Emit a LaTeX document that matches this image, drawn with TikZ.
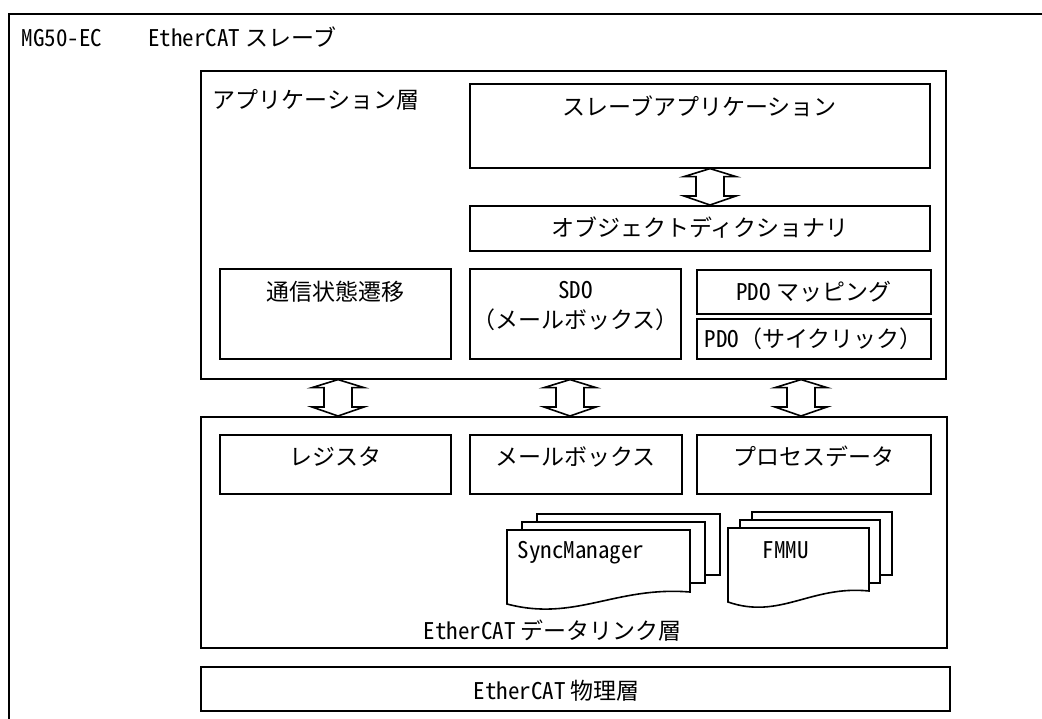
\documentclass[tikz,border=0pt]{standalone}
\usepackage{fontspec}
\setmainfont{Noto Sans CJK JP}
\newfontfamily\hw{Noto Sans CJK JP}[RawFeature=+hwid]
\usetikzlibrary{positioning,calc}

% hollow two-way arrow at x=#1 between #2 (above) and #3 (below)
\newcommand{\updown}[3]{%
  \draw[twoway] let \p1=(#2.south), \p2=(#3.north) in
    ({#1pt},\y1) -- ({#1pt-26pt},{\y1-8pt}) -- ({#1pt-14pt},{\y1-8pt})
    -- ({#1pt-14pt},{\y2+9pt}) -- ({#1pt-26pt},{\y2+9pt}) -- ({#1pt},\y2)
    -- ({#1pt+26pt},{\y2+9pt}) -- ({#1pt+14pt},{\y2+9pt})
    -- ({#1pt+14pt},{\y1-8pt}) -- ({#1pt+26pt},{\y1-8pt}) -- cycle;}

\begin{document}
\begin{tikzpicture}
  [x=1pt,y=-1pt,line width=1.6pt,
   font=\fontsize{23pt}{28pt}\selectfont,
   every node/.style={inner sep=0pt,text height=17pt,text depth=0pt},
   box/.style={draw,fill=white,anchor=north west},
   sheet/.style={draw,fill=white},
   twoway/.style={draw,fill=white}]
  \useasboundingbox (0,0) rectangle (1042,718);
  \clip (0,0) rectangle (1042,718);

  \node[box,minimum width=1100pt,minimum height=800pt] (mg) at (8,13) {};
  \node[anchor=west] (mgt) at (21,38) {{\hw MG50-EC}　　{\hw EtherCAT} スレーブ};

  % application layer
  \node[box,minimum width=745pt,minimum height=308pt] (app) at (200,70) {};
  \node[anchor=west] (appt) at (212,100) {アプリケーション層};
  \node[box,minimum width=460pt,minimum height=84pt] (slv) at (469,83) {};
  \node[below=14.5pt of slv.north] (slvt) {スレーブアプリケーション};
  \node[box,minimum width=460pt,minimum height=45pt] (od) at (469,205) {オブジェクトディクショナリ};
  \node[box,minimum width=231pt,minimum height=90pt] (nsm) at (219,268) {};
  \node[below=14.5pt of nsm.north] (nsmt) {通信状態遷移};
  \node[box,minimum width=211pt,minimum height=90pt] (sdo) at (469,268) {};
  \node[below=13pt of sdo.north] (sdot) {\hw SDO};
  \node[below=11pt of sdot] (sdot2) {（メールボックス）};
  \node[box,minimum width=234pt,minimum height=44pt] (pmap) at (696,269) {{\hw PDO} マッピング};
  \node[box,minimum width=234pt,minimum height=40pt] (pcyc) at (696,318) {{\hw PDO}（サイクリック）};

  % data link layer
  \node[box,minimum width=746pt,minimum height=231pt] (dl) at (200,416) {};
  \node[box,minimum width=231pt,minimum height=59pt] (reg) at (219,434) {};
  \node[below=13.5pt of reg.north] (regt) {レジスタ};
  \node[box,minimum width=212pt,minimum height=59pt] (mbx) at (469,434) {};
  \node[below=13.5pt of mbx.north] (mbxt) {メールボックス};
  \node[box,minimum width=234pt,minimum height=59pt] (pd) at (696,434) {};
  \node[below=13.5pt of pd.north] (pdt) {プロセスデータ};

  \foreach \i in {2,1}
    \draw[sheet] (507+15*\i,530-8*\i) rectangle ++(183,61);
  \draw[sheet] (507,530) -- (690,530) -- (690,592)
    .. controls (615,586) and (575,622) .. (507,604) -- cycle;
  \node[anchor=west] (sync) at (517,550) {\hw SyncManager};

  \foreach \i in {2,1}
    \draw[sheet] (728+12*\i,528-8*\i) rectangle ++(140,63);
  \draw[sheet] (728,528) -- (869,528) -- (869,591)
    .. controls (811,585) and (780,620) .. (728,602) -- cycle;
  \node[anchor=west] (fmmu) at (762,550) {\hw FMMU};

  \node[anchor=west] (dlt) at (423,631) {{\hw EtherCAT} データリンク層};

  % physical layer
  \node[box,minimum width=749pt,minimum height=44pt] (phy) at (200,666) {};
  \node[anchor=west] (phyt) at (473,691) {{\hw EtherCAT} 物理層};

  \updown{710}{slv}{od}
  \foreach \ax in {338,570,801}
    \updown{\ax}{app}{dl};
\end{tikzpicture}
\end{document}
